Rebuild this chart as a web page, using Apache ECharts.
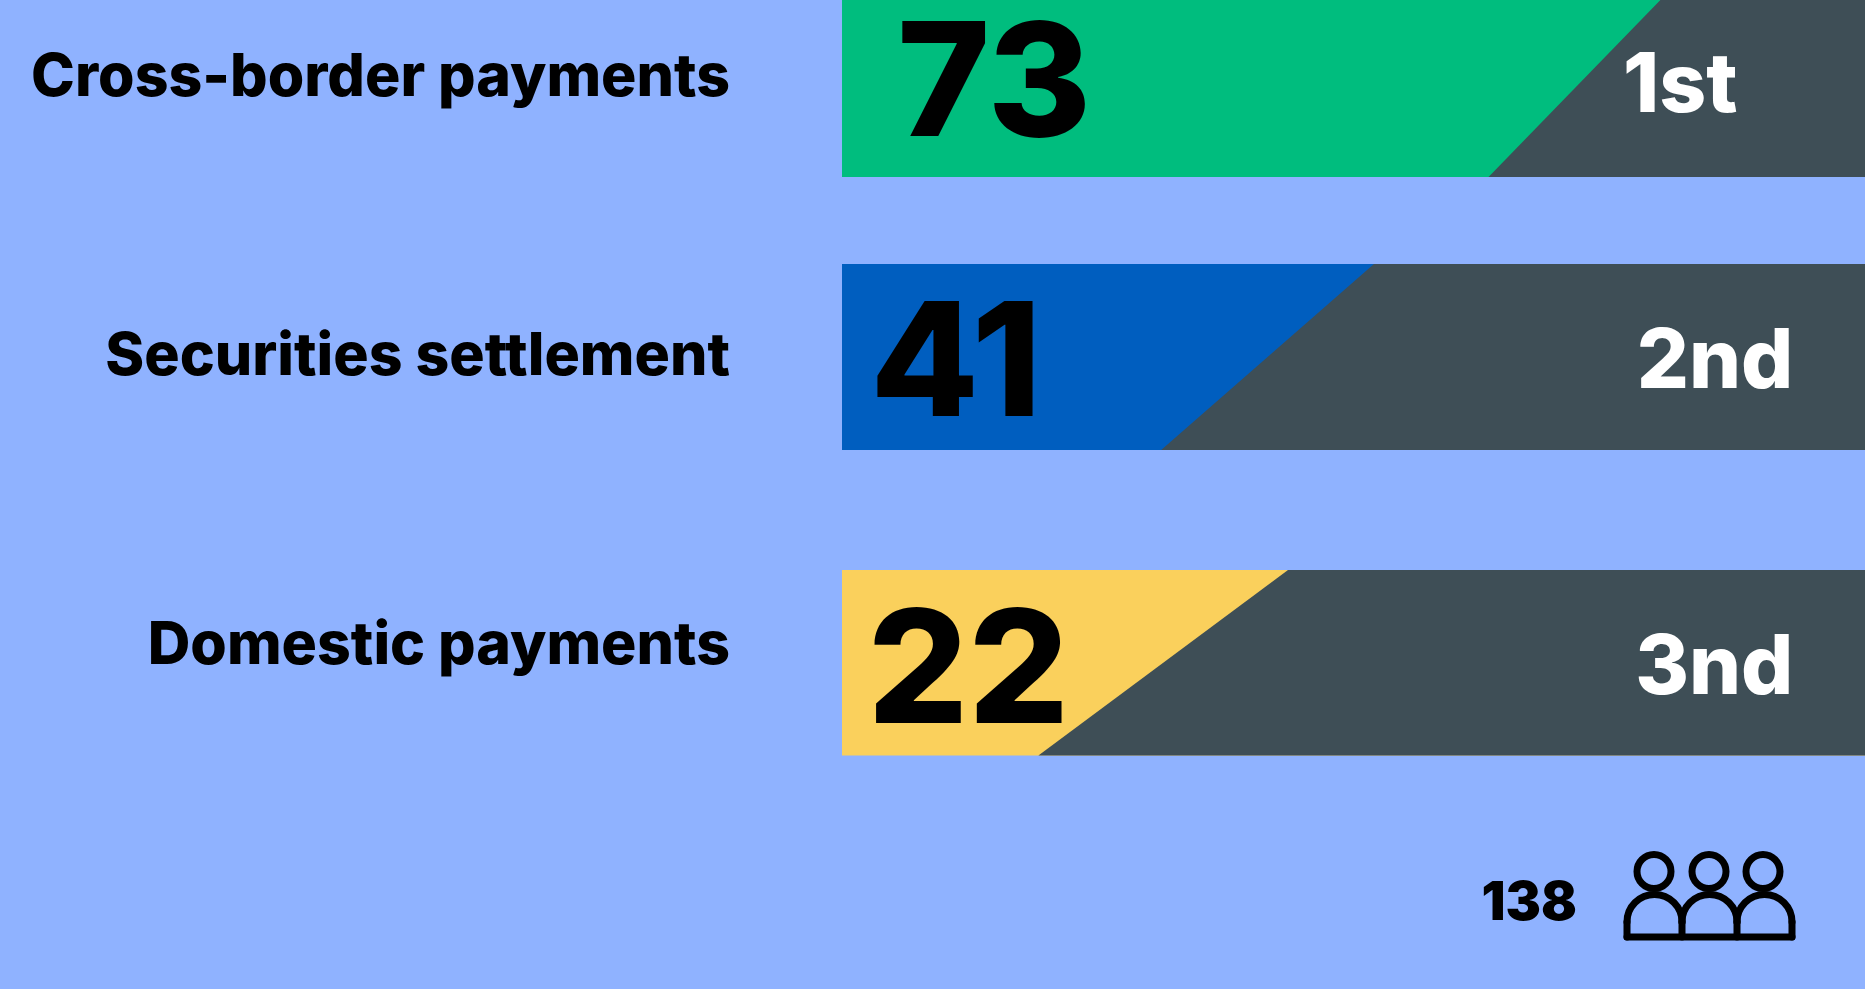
<!DOCTYPE html>
<html><head><meta charset="utf-8">
<style>html,body{margin:0;padding:0;background:#8FB2FF}#c{width:1865px;height:989px}</style>
<script src="https://cdn.jsdelivr.net/npm/echarts@6/dist/echarts.min.js"></script>
</head><body><div id="c"></div>
<script>
const categories = ['Cross-border payments', 'Securities settlement', 'Domestic payments'];
const values = [73, 41, 22];
const ranks = ['1st', '2nd', '3nd'];
const splitTop = [80.0, 52.0, 43.6];
const splitBottom = [63.2, 31.2, 19.2];
const respondents = '138';

const barColors = ['#00BD7E', '#005EBF', '#FAD05C'];
const DARK = '#3E4E56', BG = '#8FB2FF';
const FONT = 'Inter, "Open Sans", sans-serif';
const rows = [
  {top: 0, height: 177, labelDy: -10.5, valueX: 5.4, valueDy: -0.5, rankDy: -1.5, rankX: 87.55},
  {top: 264, height: 186, labelDy: 0, valueX: 2.75, valueDy: 11.5, rankDy: 6.5, rankX: 93.0},
  {top: 570, height: 185.5, labelDy: -16, valueX: 2.5, valueDy: 12.5, rankDy: 7, rankX: 93.0}
];

function renderRow(i) {
  return function (params, api) {
    const band = api.size([0, 1])[1];
    const cy = api.coord([0, 0])[1];
    const y0 = cy - band / 2, y1 = cy + band / 2;
    const X = v => api.coord([v, 0])[0];
    const r = rows[i];
    return {type: 'group', children: [
      {type: 'polygon', shape: {points: [[X(0), y0], [X(100), y0], [X(100), y1], [X(0), y1]]}, style: {fill: barColors[i]}},
      {type: 'polygon', shape: {points: [[X(api.value(1)), y0], [X(100), y0], [X(100), y1], [X(api.value(2)), y1]]}, style: {fill: DARK}},
      {type: 'text', x: X(0) - 112, y: cy + r.labelDy, style: {text: categories[i], fill: '#000', font: '800 59px ' + FONT, textAlign: 'right', textVerticalAlign: 'middle'}},
      {type: 'text', x: X(r.valueX), y: cy + r.valueDy, style: {text: String(api.value(0)), fill: '#000', font: '800 158px ' + FONT, textAlign: 'left', textVerticalAlign: 'middle'}},
      {type: 'text', x: X(r.rankX), y: cy + r.rankDy, style: {text: ranks[i], fill: '#fff', font: '800 82px ' + FONT, textAlign: 'right', textVerticalAlign: 'middle'}}
    ]};
  };
}

const iconLine = {fill: 'none', stroke: '#000', lineWidth: 7, lineCap: 'round'};
const chart = echarts.init(document.getElementById('c'), null, {renderer: 'canvas'});
chart.setOption({
  animation: false,
  backgroundColor: BG,
  grid: rows.map(r => ({left: 842, right: 0, top: r.top, height: r.height})),
  xAxis: rows.map((r, i) => ({type: 'value', gridIndex: i, min: 0, max: 100, show: false})),
  yAxis: rows.map((r, i) => ({
    type: 'category', gridIndex: i, data: [categories[i]], show: false
  })),
  series: rows.map((r, i) => ({
    type: 'custom', xAxisIndex: i, yAxisIndex: i, silent: true, clip: false,
    renderItem: renderRow(i),
    data: [[values[i], splitTop[i], splitBottom[i]]],
    encode: {x: 0}
  })),
  graphic: [
    {type: 'text', x: 1577, y: 904, style: {text: respondents, fill: '#000', font: '900 53px ' + FONT, textAlign: 'right', textVerticalAlign: 'middle'}},
    ...[1654, 1709, 1763].map(cx => ({type: 'circle', shape: {cx, cy: 871.5, r: 17}, style: {fill: 'none', stroke: '#000', lineWidth: 7}})),
    ...[1654.5, 1709.5, 1764.5].map(cx => ({type: 'arc', shape: {cx, cy: 922, r: 27.5, startAngle: Math.PI, endAngle: 2 * Math.PI, clockwise: true}, style: iconLine})),
    ...[1627, 1682, 1737, 1792].map(x => ({type: 'line', shape: {x1: x, y1: 922, x2: x, y2: 937}, style: iconLine})),
    {type: 'line', shape: {x1: 1627, y1: 937, x2: 1792, y2: 937}, style: iconLine}
  ]
});
</script></body></html>
